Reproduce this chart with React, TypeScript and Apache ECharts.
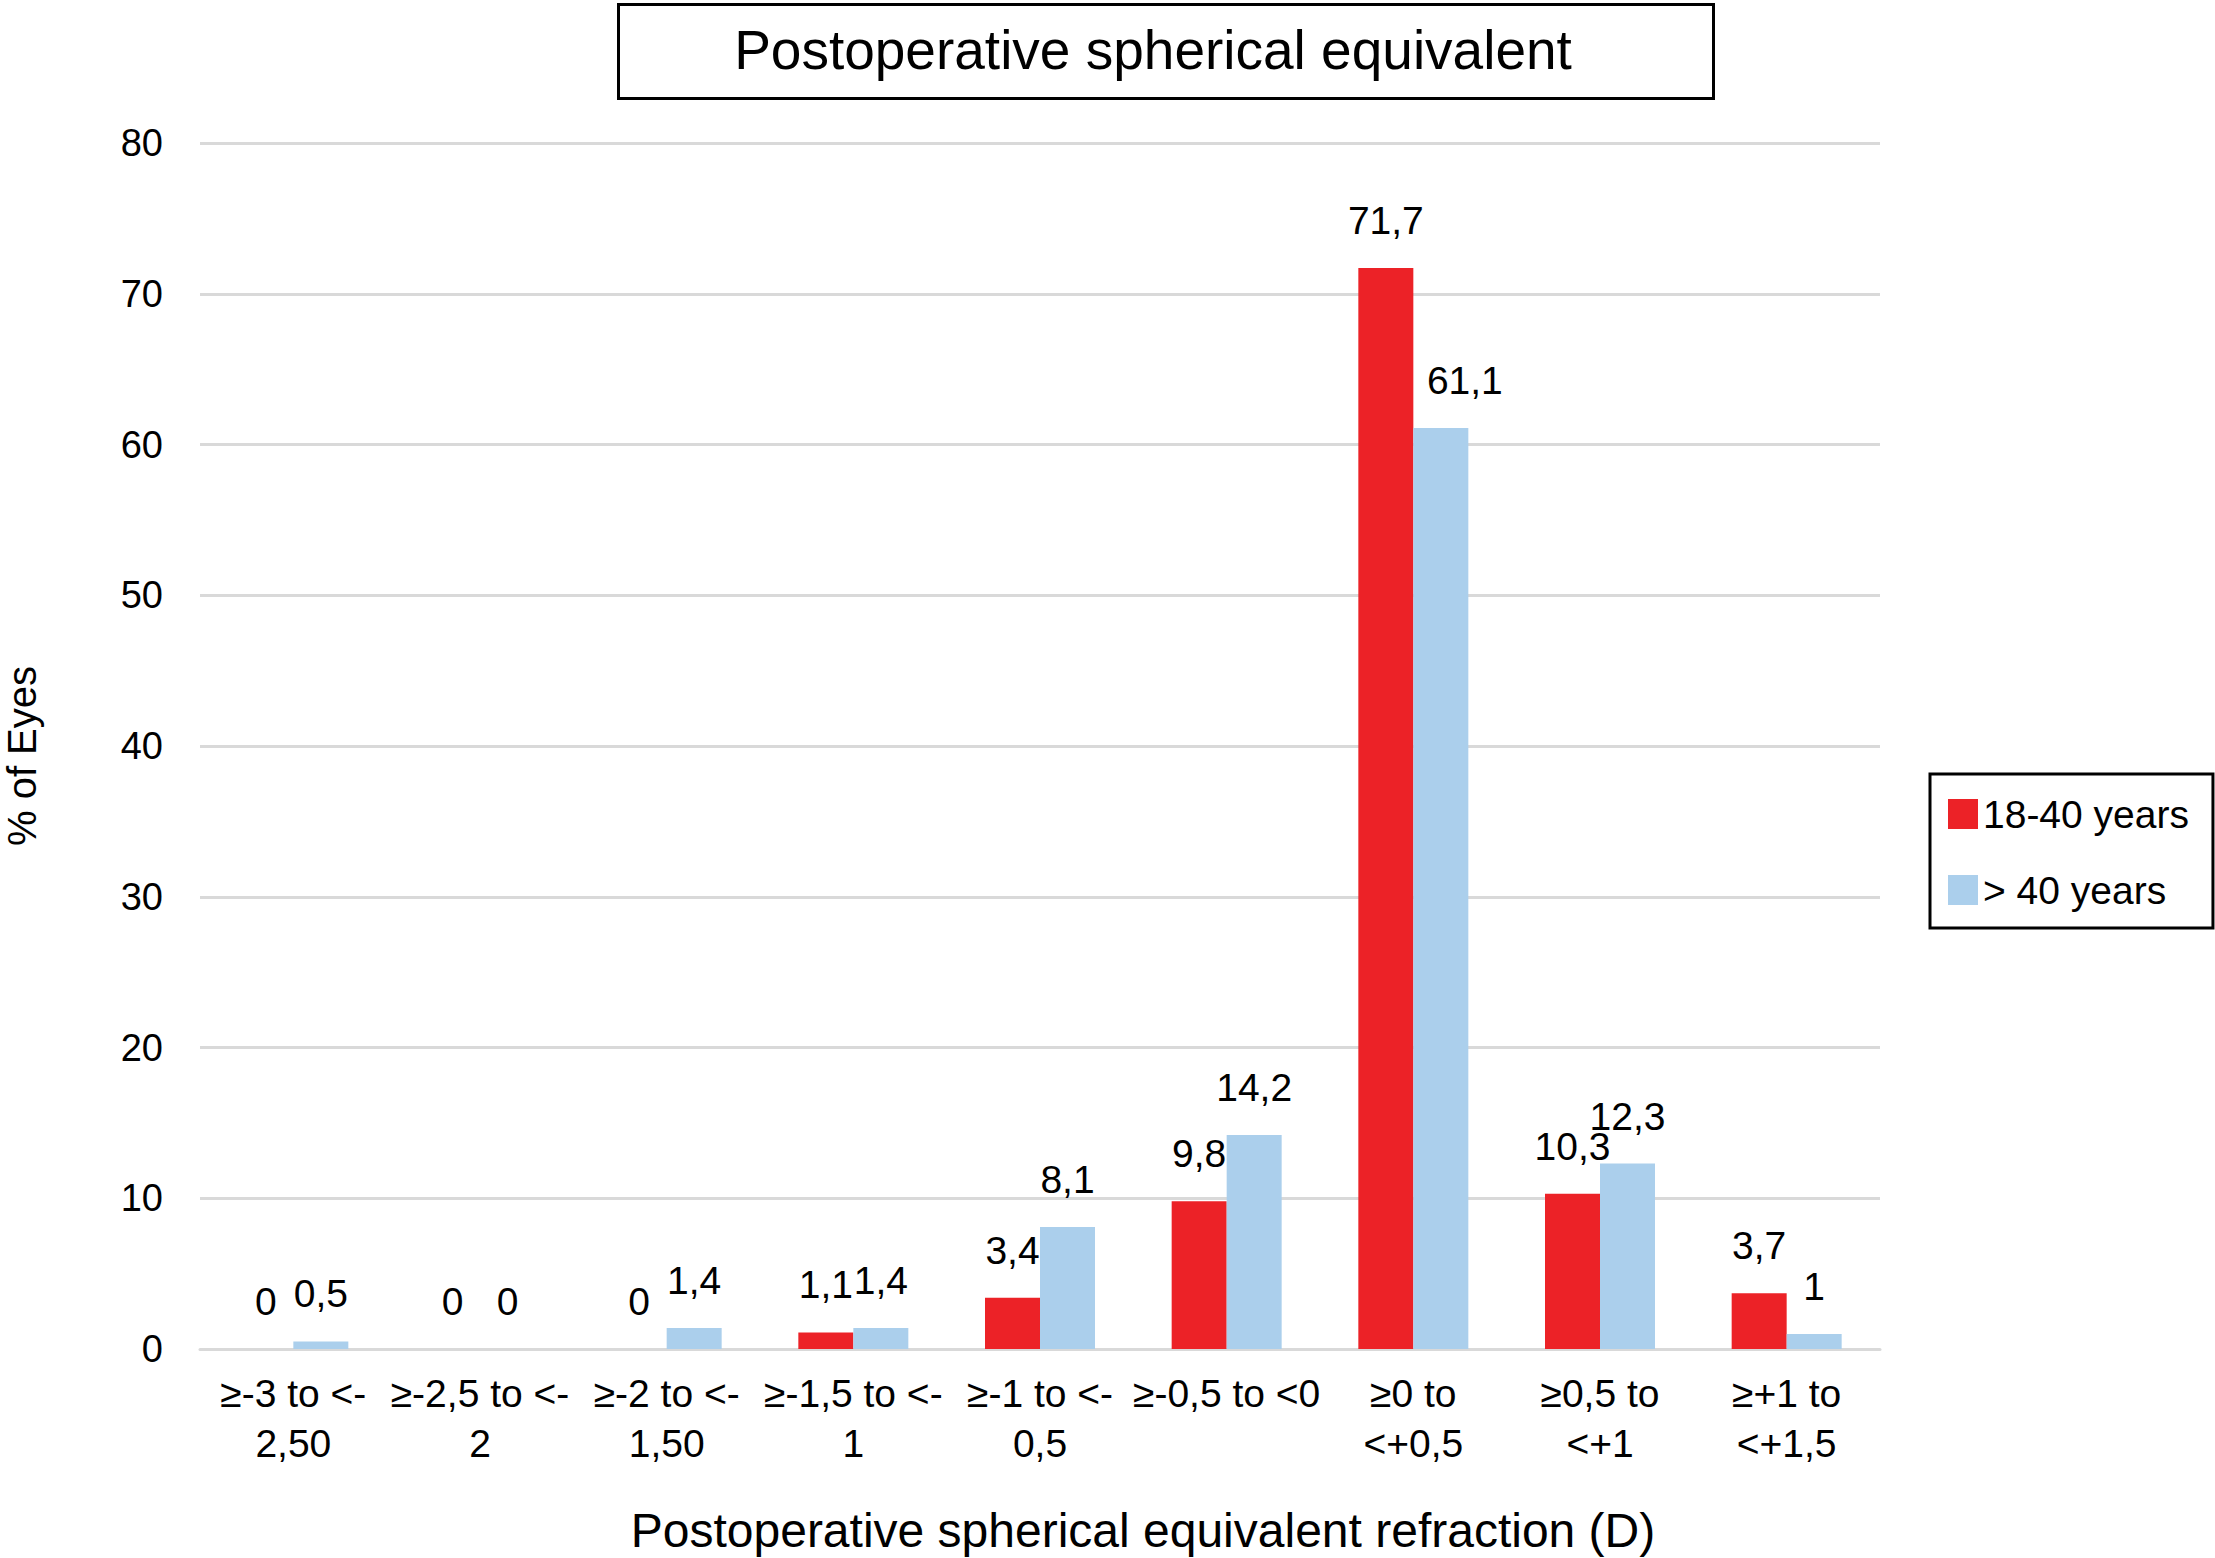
import React, { useEffect, useRef } from "react";
import * as echarts from "echarts";

const categories = [
  "≥-3 to <-\n2,50",
  "≥-2,5 to <-\n2",
  "≥-2 to <-\n1,50",
  "≥-1,5 to <-\n1",
  "≥-1 to <-\n0,5",
  "≥-0,5 to <0",
  "≥0 to\n<+0,5",
  "≥0,5 to\n<+1",
  "≥+1 to\n<+1,5",
];
const young = [0, 0, 0, 1.1, 3.4, 9.8, 71.7, 10.3, 3.7];
const older = [0.5, 0, 1.4, 1.4, 8.1, 14.2, 61.1, 12.3, 1];
const seriesNames = ["18-40 years", "> 40 years"];
const yTicks = [0, 10, 20, 30, 40, 50, 60, 70, 80];
const chartTitle = "Postoperative spherical equivalent";
const xTitle = "Postoperative spherical equivalent refraction (D)";
const yTitle = "% of Eyes";

const FONT = "'Liberation Sans', Arial, Helvetica, sans-serif";
const RED = "#EC2227";
const BLUE = "#ABCFEC";

export default function App() {
  const ref = useRef<HTMLDivElement>(null);
  useEffect(() => {
    if (!ref.current) return;
    const chart = echarts.init(ref.current, undefined, { renderer: "svg" });
    const labelCfg = {
      show: true,
      position: "top",
      distance: 28,
      color: "#000",
      fontFamily: FONT,
      fontSize: 39,
      formatter: (p: any) => String(p.value).replace(".", ","),
    };
    // the tallest blue bar's label sits to the right of the bar in the original
    const peakIdx = older.indexOf(Math.max(...older));
    const olderData = older.map((v, i) =>
      i === peakIdx ? { value: v, label: { offset: [24, 0] } } : v
    );
    chart.setOption({
      animation: false,
      backgroundColor: "#fff",
      textStyle: { fontFamily: FONT },
      grid: { left: 200, right: 335, top: 143, bottom: 209, containLabel: false },
      legend: {
        orient: "vertical",
        left: 1930,
        top: 774,
        padding: [20, 24, 18, 18],
        borderColor: "#000",
        borderWidth: 3,
        itemWidth: 30,
        itemHeight: 30,
        itemGap: 36,
        icon: "rect",
        textStyle: { fontFamily: FONT, fontSize: 39, color: "#000", lineHeight: 40 },
        data: seriesNames,
      },
      xAxis: {
        type: "category",
        data: categories,
        axisLine: { show: true, lineStyle: { color: "#d9d9d9", width: 3 } },
        axisTick: { show: false },
        axisLabel: {
          interval: 0,
          margin: 19,
          color: "#000",
          fontFamily: FONT,
          fontSize: 39,
          lineHeight: 50,
        },
      },
      yAxis: {
        type: "value",
        min: yTicks[0],
        max: yTicks[yTicks.length - 1],
        interval: 10,
        axisLine: { show: false },
        axisTick: { show: false },
        splitLine: { lineStyle: { color: "#d9d9d9", width: 3 } },
        axisLabel: {
          margin: 37,
          color: "#000",
          fontFamily: FONT,
          fontSize: 38,
        },
      },
      series: [
        {
          name: seriesNames[0],
          type: "bar",
          data: young,
          barWidth: 55,
          barGap: "0%",
          itemStyle: { color: RED },
          label: labelCfg,
        },
        {
          name: seriesNames[1],
          type: "bar",
          data: olderData,
          barWidth: 55,
          barGap: "0%",
          itemStyle: { color: BLUE },
          label: labelCfg,
        },
      ],
      graphic: [
        {
          type: "rect",
          left: 617,
          top: 3,
          shape: { width: 1095, height: 94 },
          style: { fill: "#fff", stroke: "#000", lineWidth: 3 },
          z: 10,
        },
        {
          type: "text",
          x: 1153,
          y: 50,
          z: 11,
          style: {
            text: chartTitle,
            fontFamily: FONT,
            fontSize: 55,
            fill: "#000",
            align: "center",
            verticalAlign: "middle",
          },
        },
        {
          type: "text",
          x: 1143,
          y: 1530,
          style: {
            text: xTitle,
            fontFamily: FONT,
            fontSize: 48,
            fill: "#000",
            align: "center",
            verticalAlign: "middle",
          },
        },
        {
          type: "text",
          x: 22,
          y: 756,
          rotation: Math.PI / 2,
          style: {
            text: yTitle,
            fontFamily: FONT,
            fontSize: 40,
            fill: "#000",
            align: "center",
            verticalAlign: "middle",
          },
        },
      ],
    });
    return () => chart.dispose();
  }, []);
  return (
    <div
      ref={ref}
      style={{ position: "fixed", left: 0, top: 0, width: 2215, height: 1558, background: "#fff" }}
    />
  );
}
